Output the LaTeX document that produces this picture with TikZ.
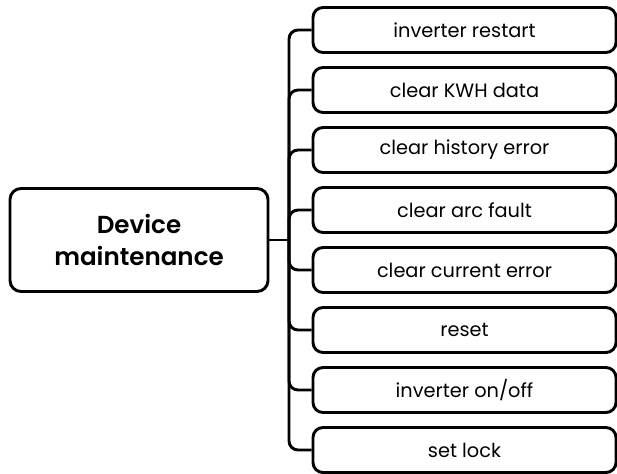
\documentclass[tikz,border=0pt]{standalone}
\usepackage{fontspec}
\setmainfont{Poppins}[BoldFont={Poppins SemiBold}]
\begin{document}
\begin{tikzpicture}[x=0.03cm,y=-0.03cm,line width=2.5pt,
    rootbox/.style={draw,rounded corners=0.33cm,minimum width=7.74cm,minimum height=3.09cm,
      align=center,font=\bfseries\fontsize{21}{28}\selectfont},
    leafbox/.style={draw,rounded corners=0.3cm,minimum width=9.09cm,minimum height=1.35cm,
      font=\fontsize{16.5}{18}\selectfont},
    branch/.style={rounded corners=0.27cm}]
  \useasboundingbox (0,0) rectangle (617,473);

  % root
  \node[rootbox] (root) at (139,240) {Device\\maintenance};
  \coordinate (spine) at (289,240);
  \draw (root.east) -- (spine);

  % leaves
  \foreach \txt [count=\i] in {inverter restart,clear KWH data,clear history error,
      clear arc fault,clear current error,reset,inverter on/off,set lock} {
    \node[leafbox] (l\i) at (464.5,{30+60*(\i-1)}) {\txt};
    \draw[branch] (spine) |- (l\i.west);
  }
\end{tikzpicture}
\end{document}
